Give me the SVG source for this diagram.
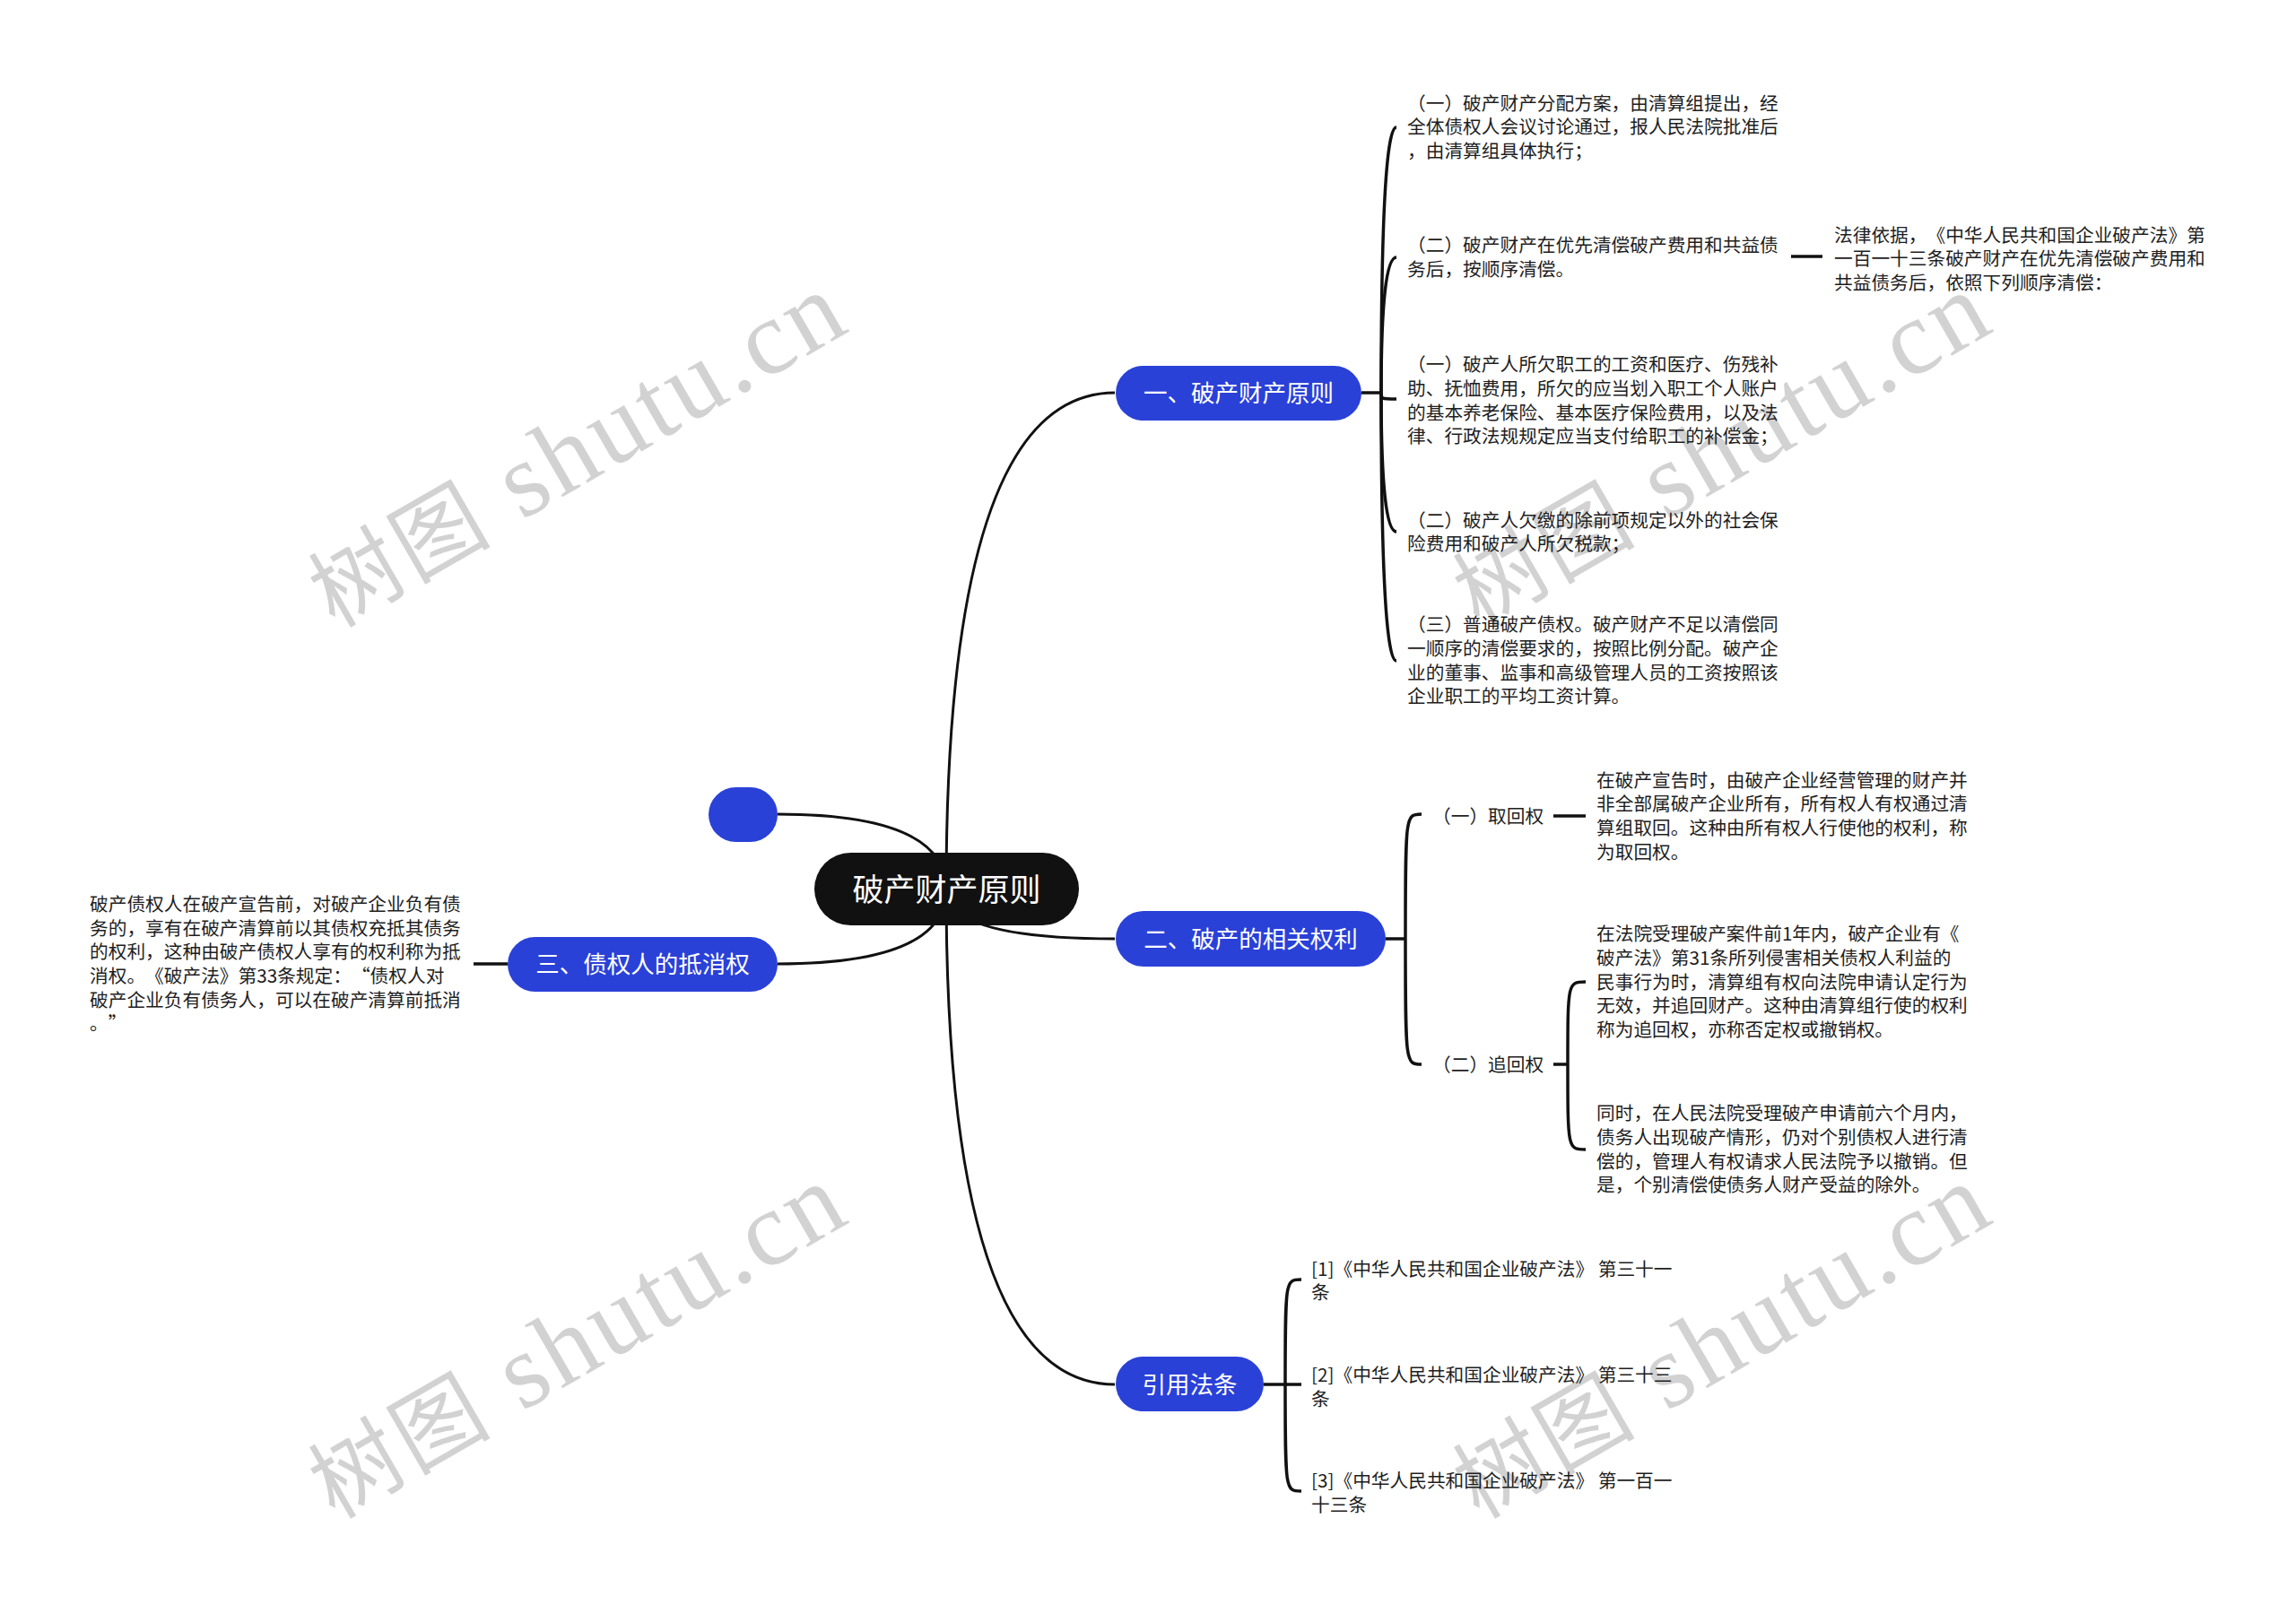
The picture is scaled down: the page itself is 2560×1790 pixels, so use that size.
<svg xmlns="http://www.w3.org/2000/svg" width="2560" height="1790" viewBox="0 0 2560 1790">
<style>
.wm{font-family:"Liberation Serif","Noto Sans CJK SC",serif;font-size:118px;fill:#d2d2d2;}
.wmc{font-family:"Noto Sans CJK SC",sans-serif;font-size:100px;}
.edge{fill:none;stroke:#111;stroke-width:3;}
.br{fill:none;stroke:#111;stroke-width:3.5;}
.blue{fill:#2a41d8;}
.root{fill:#111;}
.lbl{font-family:"Noto Sans CJK SC","Noto Sans",sans-serif;fill:#fff;text-anchor:middle;}
.t{font-family:"Noto Sans CJK SC","Noto Sans",sans-serif;font-size:20.7px;fill:#1e1e1e;text-spacing-trim:space-all;}
</style>
<rect width="2560" height="1790" fill="#fff"/>
<g id="watermarks">
<text class="wm" x="373" y="701" textLength="665" lengthAdjust="spacing" transform="rotate(-30 373 701)"><tspan class="wmc">树图</tspan> shutu.cn</text>
<text class="wm" x="1649" y="701" textLength="665" lengthAdjust="spacing" transform="rotate(-30 1649 701)"><tspan class="wmc">树图</tspan> shutu.cn</text>
<text class="wm" x="373" y="1695" textLength="665" lengthAdjust="spacing" transform="rotate(-30 373 1695)"><tspan class="wmc">树图</tspan> shutu.cn</text>
<text class="wm" x="1649" y="1695" textLength="665" lengthAdjust="spacing" transform="rotate(-30 1649 1695)"><tspan class="wmc">树图</tspan> shutu.cn</text>
</g>
<g id="connectors">
<path class="edge" d="M1055,992 Q1055,438 1243,438"/>
<path class="edge" d="M1055,992 Q1055,1047 1243,1047"/>
<path class="edge" d="M1055,992 Q1055,1544 1243,1544"/>
<path class="edge" d="M1055,992 Q1055,908 867,908"/>
<path class="edge" d="M1055,992 Q1055,1075 867,1075"/>
<path class="br" d="M1518,438 L1540,438"/>
<path class="br" d="M1540,438 Q1540,142 1557,142"/>
<path class="br" d="M1540,438 Q1540,287 1557,287"/>
<path class="br" d="M1540,438 C1540,445 1540,445 1557,445"/>
<path class="br" d="M1540,438 Q1540,593 1557,593"/>
<path class="br" d="M1540,438 Q1540,737 1557,737"/>
<path class="br" d="M1997,286 L2032,286"/>
<path class="br" d="M1545,1047 L1567,1047"/>
<path class="br" d="M1567,1047 C1567,908 1567,908 1585,908"/>
<path class="br" d="M1567,1047 C1567,1187 1567,1187 1585,1187"/>
<path class="br" d="M1732,910 L1768,910"/>
<path class="br" d="M1732,1187 L1748,1187"/>
<path class="br" d="M1748,1187 C1748,1095 1748,1095 1768,1095"/>
<path class="br" d="M1748,1187 C1748,1282 1748,1282 1768,1282"/>
<path class="br" d="M528,1075 L566,1075"/>
<path class="br" d="M1409,1544 L1451,1544"/>
<path class="br" d="M1433,1544 C1433,1427 1433,1427 1451,1427"/>
<path class="br" d="M1433,1544 C1433,1663 1433,1663 1451,1663"/>
</g>
<g id="root">
<rect class="root" x="908" y="951" width="295" height="81" rx="40.5"/>
<text class="lbl" x="1055.5" y="1004.5" font-size="35">破产财产原则</text>
</g>
<g id="b1">
<rect class="blue" x="1244" y="408" width="274" height="61" rx="30.5"/>
<text class="lbl" x="1381" y="447.5" font-size="26.5">一、破产财产原则</text>
</g>
<g id="b2">
<rect class="blue" x="1244" y="1016" width="301" height="62" rx="31"/>
<text class="lbl" x="1394.5" y="1056.5" font-size="26.5">二、破产的相关权利</text>
</g>
<g id="b3">
<rect class="blue" x="566" y="1045" width="301" height="61" rx="30.5"/>
<text class="lbl" x="716.5" y="1084.5" font-size="26.5">三、债权人的抵消权</text>
</g>
<g id="b4">
<rect class="blue" x="1244" y="1513" width="165" height="61" rx="30.5"/>
<text class="lbl" x="1326.5" y="1553.5" font-size="26.5">引用法条</text>
</g>
<g id="empty">
<rect class="blue" x="790" y="878" width="77" height="61" rx="30.5"/>
</g>
<g id="b1c1"><text class="t"><tspan x="1569" y="122.5">（一）破产财产分配方案，由清算组提出，经</tspan><tspan x="1569" y="149">全体债权人会议讨论通过，报人民法院批准后</tspan><tspan x="1569" y="176">，由清算组具体执行；</tspan></text></g>
<g id="b1c2"><text class="t"><tspan x="1569" y="281">（二）破产财产在优先清偿破产费用和共益债</tspan><tspan x="1569" y="307.5">务后，按顺序清偿。</tspan></text></g>
<g id="b1c2a"><text class="t"><tspan x="2045" y="269.5">法律依据，《中华人民共和国企业破产法》第</tspan><tspan x="2045" y="296">一百一十三条破产财产在优先清偿破产费用和</tspan><tspan x="2045" y="323">共益债务后，依照下列顺序清偿：</tspan></text></g>
<g id="b1c3"><text class="t"><tspan x="1569" y="414">（一）破产人所欠职工的工资和医疗、伤残补</tspan><tspan x="1569" y="441">助、抚恤费用，所欠的应当划入职工个人账户</tspan><tspan x="1569" y="467.5">的基本养老保险、基本医疗保险费用，以及法</tspan><tspan x="1569" y="494">律、行政法规规定应当支付给职工的补偿金；</tspan></text></g>
<g id="b1c4"><text class="t"><tspan x="1569" y="587.5">（二）破产人欠缴的除前项规定以外的社会保</tspan><tspan x="1569" y="614">险费用和破产人所欠税款；</tspan></text></g>
<g id="b1c5"><text class="t"><tspan x="1569" y="704">（三）普通破产债权。破产财产不足以清偿同</tspan><tspan x="1569" y="731">一顺序的清偿要求的，按照比例分配。破产企</tspan><tspan x="1569" y="757.5">业的董事、监事和高级管理人员的工资按照该</tspan><tspan x="1569" y="784">企业职工的平均工资计算。</tspan></text></g>
<g id="b2c1"><text class="t" x="1597" y="917.5">（一）取回权</text></g>
<g id="b2c1a"><text class="t"><tspan x="1780" y="877.5">在破产宣告时，由破产企业经营管理的财产并</tspan><tspan x="1780" y="904">非全部属破产企业所有，所有权人有权通过清</tspan><tspan x="1780" y="931">算组取回。这种由所有权人行使他的权利，称</tspan><tspan x="1780" y="957.5">为取回权。</tspan></text></g>
<g id="b2c2"><text class="t" x="1597" y="1194.5">（二）追回权</text></g>
<g id="b2c2a"><text class="t"><tspan x="1780" y="1049">在法院受理破产案件前1年内，破产企业有《</tspan><tspan x="1780" y="1076">破产法》第31条所列侵害相关债权人利益的</tspan><tspan x="1780" y="1102.5">民事行为时，清算组有权向法院申请认定行为</tspan><tspan x="1780" y="1129">无效，并追回财产。这种由清算组行使的权利</tspan><tspan x="1780" y="1156">称为追回权，亦称否定权或撤销权。</tspan></text></g>
<g id="b2c2b"><text class="t"><tspan x="1780" y="1249">同时，在人民法院受理破产申请前六个月内，</tspan><tspan x="1780" y="1276">债务人出现破产情形，仍对个别债权人进行清</tspan><tspan x="1780" y="1302.5">偿的，管理人有权请求人民法院予以撤销。但</tspan><tspan x="1780" y="1329">是，个别清偿使债务人财产受益的除外。</tspan></text></g>
<g id="b3c1"><text class="t"><tspan x="100" y="1016">破产债权人在破产宣告前，对破产企业负有债</tspan><tspan x="100" y="1042.5">务的，享有在破产清算前以其债权充抵其债务</tspan><tspan x="100" y="1069">的权利，这种由破产债权人享有的权利称为抵</tspan><tspan x="100" y="1096">消权。《破产法》第33条规定：“债权人对</tspan><tspan x="100" y="1122.5">破产企业负有债务人，可以在破产清算前抵消</tspan><tspan x="100" y="1149">。”</tspan></text></g>
<g id="b4c1"><text class="t"><tspan x="1462" y="1422.5">[1]《中华人民共和国企业破产法》 第三十一</tspan><tspan x="1462" y="1449">条</tspan></text></g>
<g id="b4c2"><text class="t"><tspan x="1462" y="1541">[2]《中华人民共和国企业破产法》 第三十三</tspan><tspan x="1462" y="1567.5">条</tspan></text></g>
<g id="b4c3"><text class="t"><tspan x="1462" y="1659">[3]《中华人民共和国企业破产法》 第一百一</tspan><tspan x="1462" y="1686">十三条</tspan></text></g>
</svg>
